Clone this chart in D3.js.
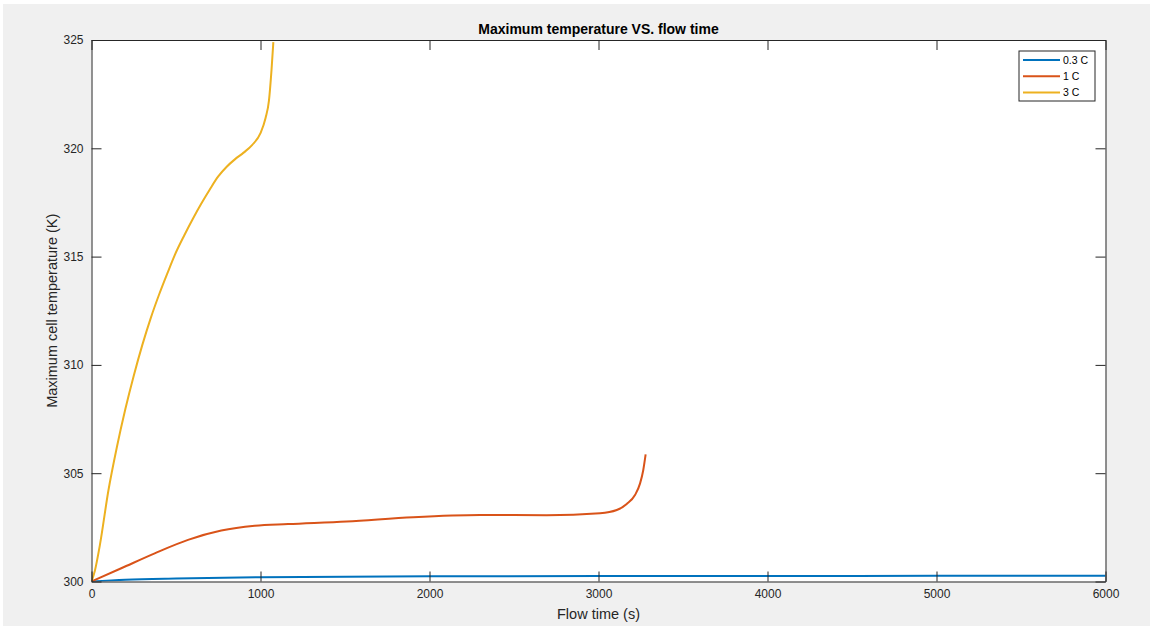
<!DOCTYPE html>
<html>
<head>
<meta charset="utf-8">
<script src="https://cdn.jsdelivr.net/npm/d3@7"></script>
<style>
  body { margin: 0; background: #fff; }
  svg { display: block; font-family: "Liberation Sans", Arial, Helvetica, sans-serif; }
</style>
</head>
<body>
<svg id="chart" width="1153" height="630"></svg>
<script>
// series names and colours (MATLAB defaults)
const seriesNames = ["0.3 C", "1 C", "3 C"];
const seriesColors = ["#0072BD", "#D95319", "#EDB120"];

// flow time (s) / max cell temperature (K)
const time03 = [0, 200, 500, 1000, 2000, 3000, 4000, 5000, 6000];
const temp03 = [300, 300.08, 300.14, 300.2, 300.24, 300.25, 300.25, 300.26, 300.27];

const time1 = [0, 176, 374, 571, 768, 966, 1163, 1510, 1904, 2299, 2693, 3009, 3108, 3167, 3216, 3246, 3265, 3279];
const temp1 = [300, 300.61, 301.3, 301.92, 302.35, 302.57, 302.65, 302.77, 302.97, 303.07, 303.06, 303.15, 303.3, 303.58, 303.99, 304.53, 305.15, 305.87];

const time3 = [0, 20, 50, 100, 150, 200, 250, 300, 350, 400, 450, 500, 550, 600, 650, 700, 750, 800, 850, 900, 950, 1000, 1030, 1050, 1065, 1076];
const temp3 = [300, 300.5, 301.7, 304.2, 306.2, 307.95, 309.5, 310.9, 312.15, 313.25, 314.25, 315.2, 316.0, 316.75, 317.45, 318.1, 318.7, 319.15, 319.5, 319.8, 320.15, 320.7, 321.4, 322.2, 323.6, 324.9];

const xTicks = [0, 1000, 2000, 3000, 4000, 5000, 6000];
const yTicks = [300, 305, 310, 315, 320, 325];

const seriesTimes = [time03, time1, time3];
const seriesTemps = [temp03, temp1, temp3];

const svg = d3.select("#chart");
const axisColor = "#262626";
const plot = { left: 91.5, top: 40, right: 1105.5, bottom: 581.5 };

// figure background
svg.append("rect")
  .attr("x", 3).attr("y", 4)
  .attr("width", 1147).attr("height", 622)
  .attr("fill", "#f0f0f0");

const x = d3.scaleLinear().domain([0, 6000]).range([plot.left, plot.right]);
const y = d3.scaleLinear().domain([300, 325]).range([plot.bottom, plot.top]);

svg.append("rect")
  .attr("x", plot.left).attr("y", plot.top)
  .attr("width", plot.right - plot.left).attr("height", plot.bottom - plot.top)
  .attr("fill", "#fff");

svg.append("clipPath").attr("id", "clip")
  .append("rect")
  .attr("x", plot.left).attr("y", plot.top)
  .attr("width", plot.right - plot.left).attr("height", plot.bottom - plot.top);

const line = d3.line()
  .x((d) => x(d[0]))
  .y((d) => y(d[1]))
  .curve(d3.curveMonotoneX);

svg.append("g")
  .attr("clip-path", "url(#clip)")
  .selectAll("path")
  .data(seriesNames)
  .enter()
  .append("path")
  .attr("d", (d, i) => line(seriesTimes[i].map((t, j) => [t, seriesTemps[i][j]])))
  .attr("fill", "none")
  .attr("stroke", (d, i) => seriesColors[i])
  .attr("stroke-width", 2);

// axes: ticks inward on all four sides, box on
function styleAxis(g) {
  g.select(".domain").attr("stroke", axisColor);
  g.selectAll(".tick line").attr("stroke", axisColor);
  g.selectAll(".tick text")
    .attr("fill", axisColor)
    .style("font-size", "12px");
}

svg.append("g")
  .attr("transform", "translate(0," + plot.bottom + ")")
  .call(d3.axisBottom(x).tickValues(xTicks).tickSizeInner(-10).tickSizeOuter(0).tickPadding(8).tickFormat(d3.format("d")))
  .call(styleAxis);

svg.append("g")
  .attr("transform", "translate(0," + plot.top + ")")
  .call(d3.axisTop(x).tickValues(xTicks).tickSizeInner(-10).tickSizeOuter(0).tickFormat(""))
  .call(styleAxis);

svg.append("g")
  .attr("transform", "translate(" + plot.left + ",0)")
  .call(d3.axisLeft(y).tickValues(yTicks).tickSizeInner(-10).tickSizeOuter(0).tickPadding(8).tickFormat(d3.format("d")))
  .call(styleAxis);

svg.append("g")
  .attr("transform", "translate(" + plot.right + ",0)")
  .call(d3.axisRight(y).tickValues(yTicks).tickSizeInner(-10).tickSizeOuter(0).tickFormat(""))
  .call(styleAxis);

svg.selectAll(".tick text").style("font-family", "'Liberation Sans', Arial, sans-serif");

// title and axis labels
svg.append("text")
  .attr("x", (plot.left + plot.right) / 2).attr("y", 34)
  .attr("text-anchor", "middle")
  .attr("fill", "#000")
  .style("font-size", "14px").style("font-weight", "bold")
  .text("Maximum temperature VS. flow time");

svg.append("text")
  .attr("x", (plot.left + plot.right) / 2).attr("y", 619)
  .attr("text-anchor", "middle")
  .attr("fill", axisColor)
  .style("font-size", "14.5px")
  .text("Flow time (s)");

svg.append("text")
  .attr("transform", "translate(57," + ((plot.top + plot.bottom) / 2) + ") rotate(-90)")
  .attr("text-anchor", "middle")
  .attr("fill", axisColor)
  .style("font-size", "14.5px")
  .text("Maximum cell temperature (K)");

// legend
const legend = svg.append("g").attr("transform", "translate(1019,51)");
legend.append("rect")
  .attr("width", 76).attr("height", 50)
  .attr("fill", "#fff")
  .attr("stroke", axisColor)
  .attr("stroke-width", 1);

const legendRow = legend.selectAll("g.row")
  .data(seriesNames)
  .enter()
  .append("g")
  .attr("class", "row")
  .attr("transform", (d, i) => "translate(0," + (9 + i * 16.3) + ")");

legendRow.append("line")
  .attr("x1", 4).attr("x2", 41)
  .attr("stroke", (d, i) => seriesColors[i])
  .attr("stroke-width", 2);

legendRow.append("text")
  .attr("x", 44).attr("dy", "0.35em")
  .attr("fill", "#000")
  .style("font-size", "10.5px")
  .text((d) => d);
</script>
</body>
</html>
